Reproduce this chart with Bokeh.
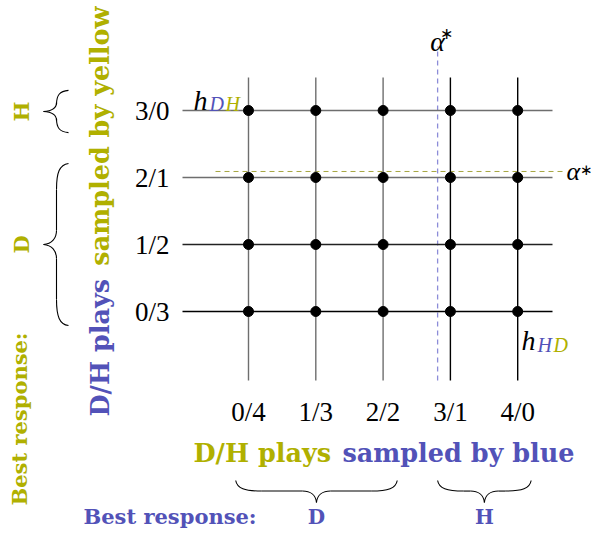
import numpy as np
from bokeh.plotting import figure
from bokeh.models import Range1d
from bokeh.core.properties import value
from bokeh.embed import file_html
from bokeh.resources import INLINE

# ---------------- data ----------------
blue_labels = ["0/4", "1/3", "2/2", "3/1", "4/0"]      # D/H plays sampled by blue (x)
yellow_labels = ["0/3", "1/2", "2/1", "3/0"]           # D/H plays sampled by yellow (y)
x_vals = [0, 1, 2, 3, 4]
y_vals = [0, 1, 2, 3]
alpha_blue = 2.81       # threshold alpha* for blue (vertical dashed)
alpha_yellow = 2.09     # threshold alpha* for yellow (horizontal dashed)
blue_br_labels = ["D", "H"]
blue_br_spans = [(-0.19, 2.21), (2.81, 4.20)]
yellow_br_labels = ["H", "D"]
yellow_br_spans = [(2.67, 3.30), (-0.21, 2.21)]

# ---------------- styles ----------------
YEL = "#b0b000"
BLUE = "#5252b8"
GRAY = "#6e6e6e"
NUMF = value("Liberation Serif")
BOLDF = value("DejaVu Serif")

W, H = 591, 531
OX, OY, UX, UY = 248.0, 311.0, 67.3, 67.0   # pixel placement of the grid


def dx(px):
    return (px - OX) / UX


def dy(py):
    return (OY - py) / UY


def px_x(x):
    return OX + x * UX


def px_y(y):
    return OY - y * UY


p = figure(width=W, height=H, x_range=Range1d(dx(0), dx(W)),
           y_range=Range1d(dy(H), dy(0)), output_backend="svg",
           toolbar_location=None, min_border=0, x_axis_type=None, y_axis_type=None)
p.grid.visible = False
p.outline_line_color = None
p.background_fill_color = "white"
p.border_fill_color = "white"

# dashed thresholds
p.segment(x0=[alpha_blue], y0=[dy(380)], x1=[alpha_blue], y1=[dy(46)],
          line_color="#8c8cd8", line_dash="5 4", line_width=1.3)
p.segment(x0=[dx(215)], y0=[alpha_yellow], x1=[dx(564)], y1=[alpha_yellow],
          line_color="#a6a640", line_dash="5 4", line_width=1.0)

# grid lines
vcol = [GRAY, GRAY, GRAY, "black", "black"]
hcol = ["black", "#222222", GRAY, GRAY]
p.segment(x0=x_vals, y0=[dy(380)] * len(x_vals), x1=x_vals, y1=[dy(77)] * len(x_vals),
          line_color=vcol, line_width=1.4)
p.segment(x0=[dx(182)] * len(y_vals), y0=y_vals, x1=[dx(552)] * len(y_vals), y1=y_vals,
          line_color=hcol, line_width=1.4)

gx, gy = np.meshgrid(x_vals, y_vals)
p.scatter(gx.ravel(), gy.ravel(), size=10, color="black")


# braces
def brace(a, b, c_end, c_tip, vertical):
    """Return bezier/segment lists in px; a,b along the span, c_end/c_tip across."""
    r, rt = 26.0, 14.0
    if abs(b - a) < 60:
        r, rt = 14.0, 9.0
    if a > b:
        a, b = b, a
    m = (a + b) / 2
    c_mid = c_end + 0.48 * (c_tip - c_end)
    bz = []
    for s, e in ((a, 1), (b, -1)):
        bz.append(((s, c_end), (s + e * 0.05 * r, c_end + 0.75 * (c_mid - c_end)),
                   (s + e * 0.35 * r, c_mid), (s + e * r, c_mid)))
        bz.append(((m - e * rt, c_mid), (m - e * 0.45 * rt, c_mid),
                   (m - e * 0.05 * rt, c_mid + 0.35 * (c_tip - c_mid)), (m, c_tip)))
    segs = [((a + r, c_mid), (m - rt, c_mid)), ((m + rt, c_mid), (b - r, c_mid))]

    def conv(pt):
        if vertical:
            return dx(pt[1]), dy(pt[0])
        return dx(pt[0]), dy(pt[1])
    bz = [[conv(q) for q in curve] for curve in bz]
    segs = [[conv(q) for q in sg] for sg in segs]
    return bz, segs


all_bz, all_sg = [], []
for (s0, s1) in blue_br_spans:
    bz, sg = brace(px_x(s0), px_x(s1), 480, 502, False)
    all_bz += bz
    all_sg += sg
for (s0, s1) in yellow_br_spans:
    bz, sg = brace(px_y(s1), px_y(s0), 68, 43, True)
    all_bz += bz
    all_sg += sg

p.bezier(x0=[c[0][0] for c in all_bz], y0=[c[0][1] for c in all_bz],
         cx0=[c[1][0] for c in all_bz], cy0=[c[1][1] for c in all_bz],
         cx1=[c[2][0] for c in all_bz], cy1=[c[2][1] for c in all_bz],
         x1=[c[3][0] for c in all_bz], y1=[c[3][1] for c in all_bz],
         line_color="black", line_width=1.1)
p.segment(x0=[s[0][0] for s in all_sg], y0=[s[0][1] for s in all_sg],
          x1=[s[1][0] for s in all_sg], y1=[s[1][1] for s in all_sg],
          line_color="black", line_width=1.1)


def txt(x, y, t, color="black", size="27px", font=NUMF, style="normal",
        align="left", baseline="middle", angle=0.0):
    p.text(x=x, y=y, text=t, text_color=color, text_font=font,
           text_font_size=value(size), text_font_style=style,
           text_align=align, text_baseline=baseline, angle=angle)


# tick labels
txt([dx(169)] * len(y_vals), y_vals, yellow_labels, align="right")
txt(x_vals, [dy(411)] * len(x_vals), blue_labels, align="center")

# axis titles
txt([dx(193)], [dy(452)], ["D/H plays"], color=YEL, size="25.5px", font=BOLDF,
    style="bold")
txt([dx(574)], [dy(452)], ["sampled by blue"], color=BLUE, size="25.5px",
    font=BOLDF, style="bold", align="right")
txt([dx(99)], [dy(416)], ["D/H plays"], color=BLUE, size="25.5px", font=BOLDF,
    style="bold", angle=np.pi / 2)
txt([dx(99)], [dy(6)], ["sampled by yellow"], color=YEL, size="25.5px",
    font=BOLDF, style="bold", align="right", angle=np.pi / 2)

# best responses
txt([dx(19)], [dy(505)], ["Best response:"], color=YEL, size="21px",
    font=BOLDF, style="bold", angle=np.pi / 2)
txt([dx(21)] * 2, [(s0 + s1) / 2 for s0, s1 in yellow_br_spans], yellow_br_labels,
    color=YEL, size="21px", font=BOLDF, style="bold", align="center",
    angle=np.pi / 2)
txt([dx(83)], [dy(516)], ["Best response:"], color=BLUE, size="21px",
    font=BOLDF, style="bold")
txt([(s0 + s1) / 2 for s0, s1 in blue_br_spans], [dy(516)] * 2, blue_br_labels,
    color=BLUE, size="20px", font=BOLDF, style="bold", align="center")

# h_DH and h_HD labels
txt([dx(193)], [dy(100)], ["h"], style="italic", size="28px", baseline="alphabetic")
txt([dx(209)], [dy(103)], ["D"], color=BLUE, style="italic", size="20px",
    baseline="alphabetic")
txt([dx(225)], [dy(103)], ["H"], color=YEL, style="italic", size="20px",
    baseline="alphabetic")
txt([dx(521)], [dy(340)], ["h"], style="italic", size="28px", baseline="alphabetic")
txt([dx(537)], [dy(344)], ["H"], color=BLUE, style="italic", size="20px",
    baseline="alphabetic")
txt([dx(553)], [dy(344)], ["D"], color=YEL, style="italic", size="20px",
    baseline="alphabetic")

# alpha* labels
txt([alpha_blue], [dy(41)], ["α"], style="italic", size="28px", align="center",
    baseline="alphabetic")
txt([dx(439)], [dy(33)], ["∗"], size="16px", baseline="alphabetic")
txt([dx(566)], [alpha_yellow], ["α"], style="italic", size="26px", baseline="middle")
txt([dx(579)], [dy(169)], ["∗"], size="15px", baseline="alphabetic")

open("out.html", "w").write(file_html(p, INLINE))
